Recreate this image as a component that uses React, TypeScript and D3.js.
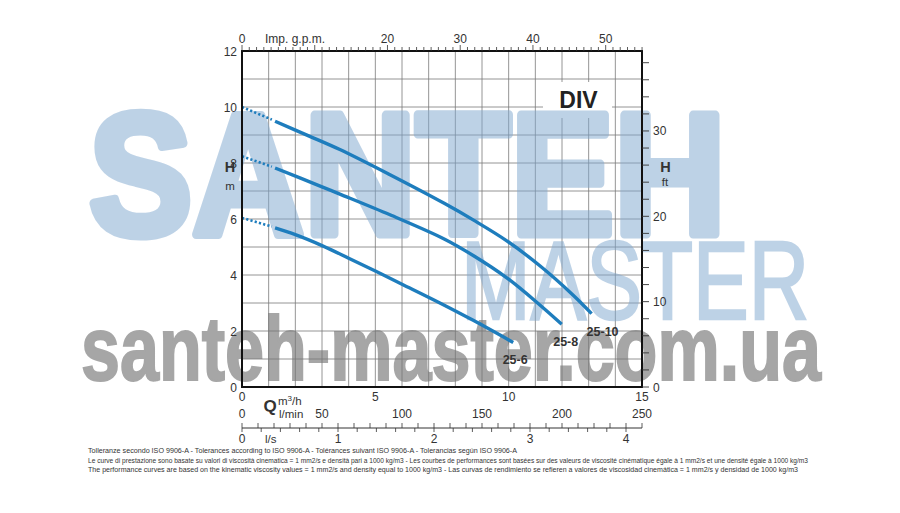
import React from "react";
import * as d3 from "d3";

// ---- data ----
const curveNames = ["25-6", "25-8", "25-10"];
const flow25_6 = [1.24, 2.0, 3.0, 4.0, 5.0, 6.0, 7.42, 8.67, 10.17];
const head25_6 = [5.68, 5.44, 5.05, 4.6, 4.14, 3.67, 3.0, 2.38, 1.59];
const flow25_8 = [1.24, 3.0, 3.67, 5.55, 7.6, 8.7, 9.93, 11.17, 11.99];
const head25_8 = [7.82, 7.15, 6.89, 6.15, 5.28, 4.68, 3.9, 2.93, 2.24];
const flow25_10 = [1.24, 2.5, 3.67, 5.55, 7.6, 8.7, 9.93, 11.17, 12.42, 13.11];
const head25_10 = [9.49, 8.97, 8.48, 7.58, 6.55, 5.95, 5.22, 4.33, 3.28, 2.62];
const shutoffHead = [6.04, 8.24, 10.0];
const dottedEndFlow = 1.12;
const dottedEndHead = [5.73, 7.87, 9.55];

const headTicksM = [0, 2, 4, 6, 8, 10, 12];
const headTicksFt = [0, 10, 20, 30];
const gpmTicks = [0, 20, 30, 40, 50];
const m3hTicks = [0, 5, 10, 15];
const lpmTicks = [0, 50, 100, 150, 200, 250];
const lsTicks = [0, 1, 2, 3, 4];

const footnotes = [
  "Tolleranze secondo ISO 9906-A - Tolerances according to ISO 9906-A - Tolérances suivant ISO 9906-A - Tolerancias según ISO 9906-A",
  "Le curve di prestazione sono basate su valori di viscosità cinematica = 1 mm2/s e densità pari a 1000 kg/m3 - Les courbes de performances sont basées sur des valeurs de viscosité cinématique égale à 1 mm2/s et une densité égale à 1000 kg/m3",
  "The performance curves are based on the kinematic viscosity values = 1 mm2/s and density equal to 1000 kg/m3 - Las curvas de rendimiento se refieren a valores de viscosidad cinemática = 1 mm2/s y densidad de 1000 kg/m3",
];

const FONT = "'Liberation Sans', Arial, Helvetica, sans-serif";
const BLUE = "#1e7dbd";

export default function App() {
  const W = 900;
  const H = 513;
  const L = 242, R = 642, T = 51, B = 387;
  const x = d3.scaleLinear().domain([0, 15]).range([L, R]);
  const y = d3.scaleLinear().domain([0, 12]).range([B, T]);
  const xGpm = d3.scaleLinear().domain([0, 15 * 3.6662]).range([L, R]);
  const xLpm = d3.scaleLinear().domain([0, 250]).range([L, R]);
  const xLs = d3.scaleLinear().domain([0, 250 / 60]).range([L, R]);
  const yFt = d3.scaleLinear().domain([0, 12 * 3.28084]).range([B, T]);

  const series = [
    { name: curveNames[0], q: flow25_6, h: head25_6, dx: 2 },
    { name: curveNames[1], q: flow25_8, h: head25_8, dx: 4 },
    { name: curveNames[2], q: flow25_10, h: head25_10, dx: 11 },
  ];

  const line = d3
    .line<[number, number]>()
    .x((d) => x(d[0]))
    .y((d) => y(d[1]))
    .curve(d3.curveCatmullRom.alpha(0.5));

  const gridV = d3.range(1, 15);
  const gridH = d3.range(1, 12);
  const gpmMinor = d3.range(0, 55.5, 1);
  const ftMinor = d3.range(0, 40, 2);
  const lpmMinor = d3.range(0, 251, 10);
  const lsMinor = d3.range(0, 4.17, 0.2);
  const lineY = 428;

  const wmBlue = "#7ea7cf";

  return (
    <svg
      width={W}
      height={H}
      viewBox={`0 0 ${W} ${H}`}
      style={{ position: "absolute", left: 0, top: 0, background: "#fff" }}
      fontFamily={FONT}
    >
      <rect x={0} y={0} width={W} height={H} fill="#fff" />

      {/* grid */}
      {gridV.map((v) => (
        <line key={"gv" + v} x1={x(v)} x2={x(v)} y1={T} y2={B} stroke="#7a7a7a" strokeWidth={0.8} />
      ))}
      {gridH.map((v) => (
        <line key={"gh" + v} x1={L} x2={R} y1={y(v)} y2={y(v)} stroke="#7a7a7a" strokeWidth={0.8} />
      ))}

      {/* DIV box */}
      <rect x={543} y={82} width={69} height={36} fill="#fff" />
      <text x={578.5} y={108} textAnchor="middle" fontSize={23} fontWeight="bold" fill="#222">
        DIV
      </text>

      {/* watermark */}
      <g opacity={0.5}>
        <text x={89} y={234} fontSize={172} fontWeight="bold" fill={wmBlue} stroke={wmBlue}
          strokeWidth={9} strokeLinejoin="round"
          textLength={637} lengthAdjust="spacingAndGlyphs">SANTEH</text>
        <text x={461} y={319} fontSize={112} fill={wmBlue} stroke={wmBlue} strokeWidth={2.5}
          textLength={348} lengthAdjust="spacingAndGlyphs">MASTER</text>
      </g>
      <g opacity={0.65}>
        <text x={81} y={380} fontSize={90} fontWeight={600} fill="#777" stroke="#777" strokeWidth={2}
          textLength={740} lengthAdjust="spacingAndGlyphs">santeh-master.com.ua</text>
      </g>

      {/* curves */}
      {series.map((s, i) => {
        const pts: [number, number][] = s.q.map((q, j) => [q, s.h[j]]);
        const last = pts[pts.length - 1];
        return (
          <g key={s.name}>
            <line
              x1={x(0)} y1={y(shutoffHead[i])} x2={x(dottedEndFlow)} y2={y(dottedEndHead[i])}
              stroke={BLUE} strokeWidth={2.6} strokeDasharray="2.2 2.2"
            />
            <path d={line(pts) || ""} fill="none" stroke={BLUE} strokeWidth={3.4} strokeLinecap="butt" />
            <text x={x(last[0]) + s.dx} y={y(last[1]) + 22} textAnchor="middle" fontSize={12.5}
              fontWeight="bold" fill="#333">{s.name}</text>
          </g>
        );
      })}

      {/* frame */}
      <rect x={L} y={T} width={R - L} height={B - T} fill="none" stroke="#111" strokeWidth={2} />

      {/* left axis */}
      {headTicksM.map((v) => (
        <text key={"lm" + v} x={237} y={y(v) + 4.5} textAnchor="end" fontSize={12} fill="#333">{v}</text>
      ))}
      <text x={230} y={172} textAnchor="middle" fontSize={14.5} fontWeight="bold" fill="#333">H</text>
      <text x={230} y={190} textAnchor="middle" fontSize={11.5} fill="#333">m</text>

      {/* right axis */}
      {ftMinor.map((v) => (
        <line key={"rt" + v} x1={R} x2={R + 7} y1={yFt(v)} y2={yFt(v)} stroke="#333" strokeWidth={0.9} />
      ))}
      {headTicksFt.map((v) => (
        <text key={"rf" + v} x={653} y={yFt(v) + 4.5} fontSize={12} fill="#333">{v}</text>
      ))}
      <text x={665.5} y={171.5} textAnchor="middle" fontSize={14.5} fontWeight="bold" fill="#333">H</text>
      <text x={665} y={186} textAnchor="middle" fontSize={11.5} fill="#333">ft</text>

      {/* top axis */}
      {gpmMinor.map((v) => (
        <line key={"tg" + v} x1={xGpm(v)} x2={xGpm(v)} y1={T} y2={T - (v % 10 === 0 ? 6 : 4)} stroke="#333" strokeWidth={0.8} />
      ))}
      {gpmTicks.map((v) => (
        <text key={"tl" + v} x={xGpm(v)} y={43} textAnchor="middle" fontSize={12} fill="#333">{v}</text>
      ))}
      <text x={265} y={43} fontSize={12} fill="#333">Imp. g.p.m.</text>

      {/* bottom axes */}
      {m3hTicks.map((v) => (
        <text key={"bm" + v} x={x(v)} y={401} textAnchor="middle" fontSize={12} fill="#333">{v}</text>
      ))}
      <text x={270} y={412} textAnchor="middle" fontSize={17} fontWeight="bold" fill="#333">Q</text>
      <text x={278} y={405} fontSize={11.5} fill="#333">
        m<tspan dy={-4} fontSize={8}>3</tspan><tspan dy={4}>/h</tspan>
      </text>
      <text x={279} y={418} fontSize={11.5} fill="#333">l/min</text>
      {lpmTicks.map((v) => (
        <text key={"bl" + v} x={xLpm(v)} y={418} textAnchor="middle" fontSize={12} fill="#333">{v}</text>
      ))}
      <line x1={L} x2={R} y1={lineY} y2={lineY} stroke="#333" strokeWidth={1} />
      {lpmMinor.map((v) => (
        <line key={"lpt" + v} x1={xLpm(v)} x2={xLpm(v)} y1={lineY} y2={lineY - 5} stroke="#333" strokeWidth={0.8} />
      ))}
      {lsMinor.map((v) => (
        <line key={"lst" + v} x1={xLs(v)} x2={xLs(v)} y1={lineY} y2={lineY + 4} stroke="#333" strokeWidth={0.8} />
      ))}
      {lsTicks.map((v) => (
        <text key={"ls" + v} x={xLs(v)} y={443} textAnchor="middle" fontSize={12} fill="#333">{v}</text>
      ))}
      <text x={265} y={443} fontSize={11.5} fill="#333">l/s</text>

      {/* footnotes */}
      {footnotes.map((t, i) => (
        <text key={"fn" + i} x={88} y={453 + i * 9.5} fontSize={6.6} fill="#333"
          textLength={[429, 720, 710][i]} lengthAdjust="spacingAndGlyphs">{t}</text>
      ))}
    </svg>
  );
}
